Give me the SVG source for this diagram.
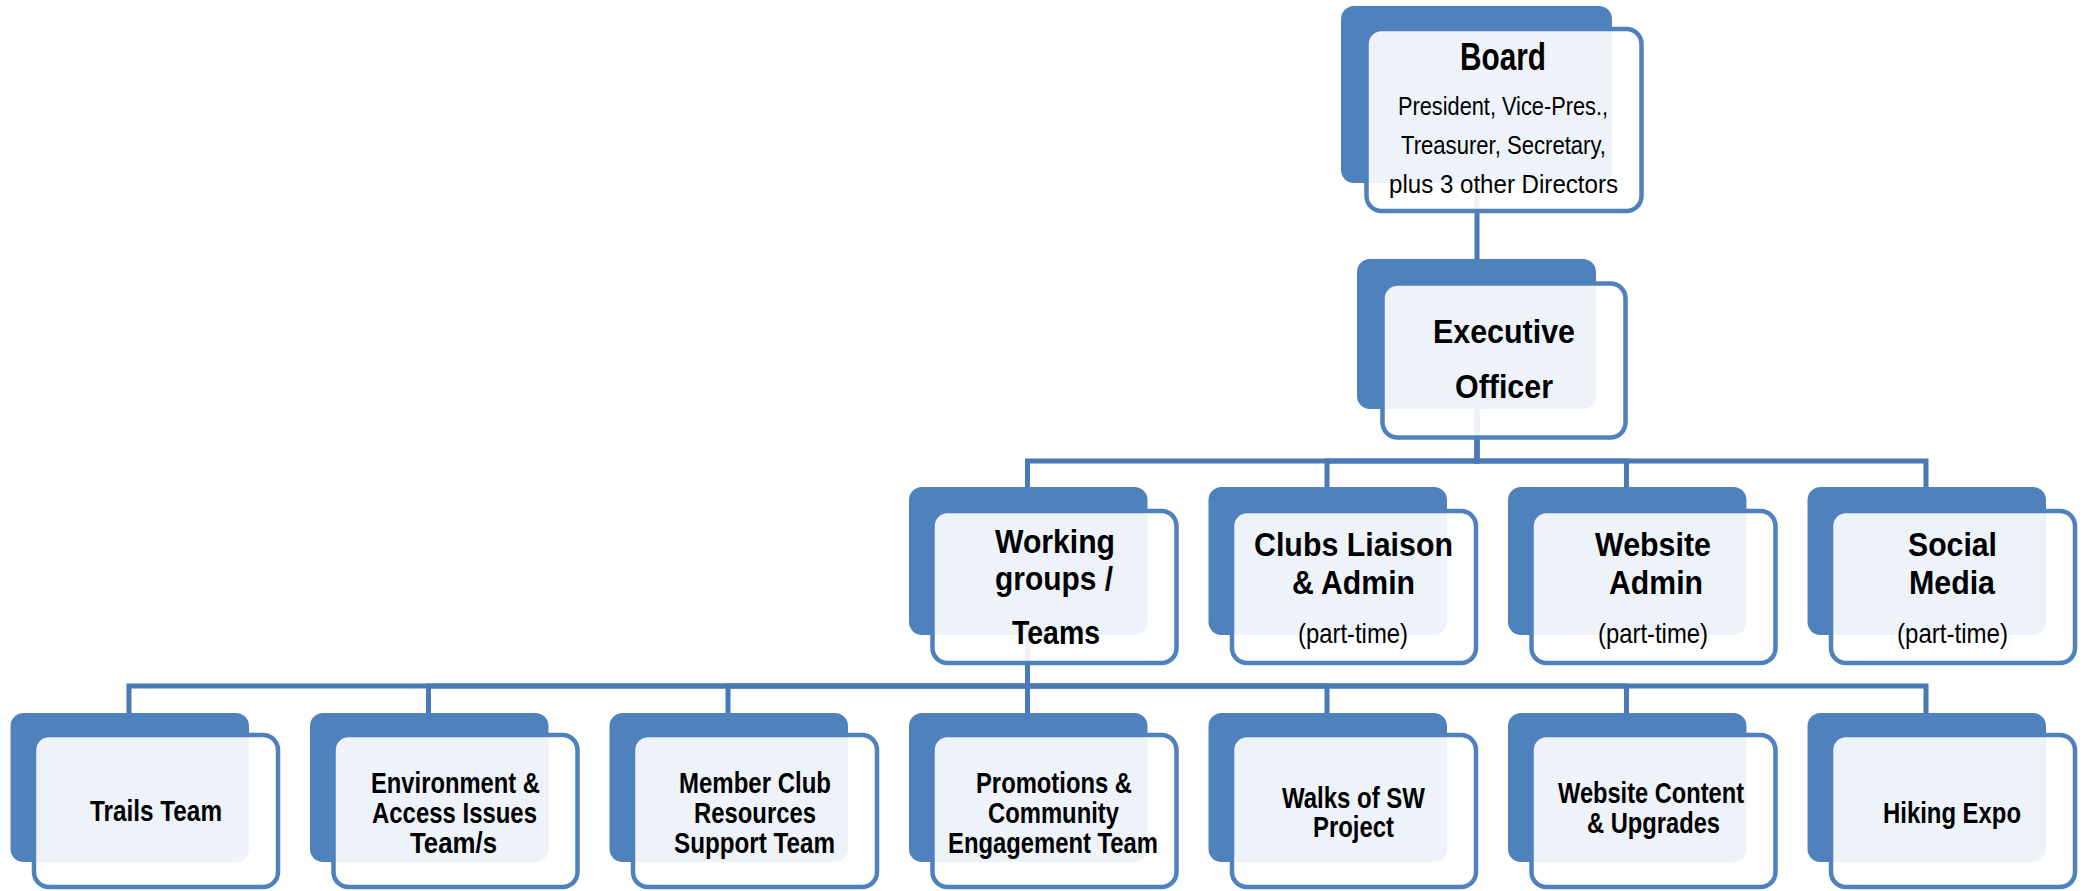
<svg xmlns="http://www.w3.org/2000/svg" width="2085" height="891" viewBox="0 0 2085 891">
<style>
.bg{fill:#ffffff}
.back{fill:#4F81BD}
.front{fill:#ffffff;fill-opacity:0.9;stroke:#4F81BD;stroke-width:4.5}
.conn{fill:none;stroke:#4A7AB5;stroke-width:5;stroke-linejoin:miter}
text{font-family:"Liberation Sans",Arial,sans-serif;fill:#000000}
.b{font-weight:bold}
.t37{font-size:38px}
.t33{font-size:33px}
.t32{font-size:32.5px}
.t28{font-size:29px}
.t27{font-size:28px}
.t26{font-size:26px}
</style>
<rect class="bg" x="0" y="0" width="2085" height="891"/>
<g id="connectors">
<path class="conn" d="M1477 183 V259"/>
<path class="conn" d="M1477 409 V461 H1027.5 V487"/>
<path class="conn" d="M1477 409 V461 H1327 V487"/>
<path class="conn" d="M1477 409 V461 H1626.5 V487"/>
<path class="conn" d="M1477 409 V461 H1926 V487"/>
<path class="conn" d="M1027.5 635 V686 H129 V713"/>
<path class="conn" d="M1027.5 635 V686 H428.5 V713"/>
<path class="conn" d="M1027.5 635 V686 H728 V713"/>
<path class="conn" d="M1027.5 635 V713"/>
<path class="conn" d="M1027.5 635 V686 H1327 V713"/>
<path class="conn" d="M1027.5 635 V686 H1626.5 V713"/>
<path class="conn" d="M1027.5 635 V686 H1926 V713"/>
</g>
<g id="board">
<rect class="back" x="1341" y="6" width="271" height="177" rx="13"/>
<rect class="front" x="1366.5" y="29" width="275" height="182" rx="15"/>
<text class="b t37" x="1460" y="70" textLength="86" lengthAdjust="spacingAndGlyphs">Board</text>
<text class="t26" x="1398" y="115" textLength="210" lengthAdjust="spacingAndGlyphs">President, Vice-Pres.,</text>
<text class="t26" x="1401" y="154" textLength="205" lengthAdjust="spacingAndGlyphs">Treasurer, Secretary,</text>
<text class="t26" x="1389" y="193" textLength="229" lengthAdjust="spacingAndGlyphs">plus 3 other Directors</text>
</g>
<g id="executive">
<rect class="back" x="1357" y="259" width="239" height="150" rx="13"/>
<rect class="front" x="1382.5" y="283.5" width="243" height="154" rx="15"/>
<text class="b t33" x="1433" y="343" textLength="142" lengthAdjust="spacingAndGlyphs">Executive</text>
<text class="b t33" x="1455" y="398" textLength="98" lengthAdjust="spacingAndGlyphs">Officer</text>
</g>
<g id="working-groups">
<rect class="back" x="909" y="487" width="238.5" height="148" rx="13"/>
<rect class="front" x="932.5" y="511" width="244" height="152" rx="15"/>
<text class="b t32" x="995" y="553" textLength="120" lengthAdjust="spacingAndGlyphs">Working</text>
<text class="b t32" x="995" y="590" textLength="118" lengthAdjust="spacingAndGlyphs">groups /</text>
<text class="b t32" x="1012" y="644" textLength="88" lengthAdjust="spacingAndGlyphs">Teams</text>
</g>
<g id="clubs-liaison">
<rect class="back" x="1208.5" y="487" width="238.5" height="148" rx="13"/>
<rect class="front" x="1232" y="511" width="244" height="152" rx="15"/>
<text class="b t32" x="1254" y="556" textLength="199" lengthAdjust="spacingAndGlyphs">Clubs Liaison</text>
<text class="b t32" x="1292" y="594" textLength="123" lengthAdjust="spacingAndGlyphs">&amp; Admin</text>
<text class="t27" x="1298" y="643" textLength="110" lengthAdjust="spacingAndGlyphs">(part-time)</text>
</g>
<g id="website-admin">
<rect class="back" x="1508" y="487" width="238.5" height="148" rx="13"/>
<rect class="front" x="1531.5" y="511" width="244" height="152" rx="15"/>
<text class="b t32" x="1595" y="556" textLength="116" lengthAdjust="spacingAndGlyphs">Website</text>
<text class="b t32" x="1609" y="594" textLength="94" lengthAdjust="spacingAndGlyphs">Admin</text>
<text class="t27" x="1598" y="643" textLength="110" lengthAdjust="spacingAndGlyphs">(part-time)</text>
</g>
<g id="social-media">
<rect class="back" x="1807.5" y="487" width="238.5" height="148" rx="13"/>
<rect class="front" x="1831" y="511" width="244" height="152" rx="15"/>
<text class="b t32" x="1908" y="556" textLength="89" lengthAdjust="spacingAndGlyphs">Social</text>
<text class="b t32" x="1909" y="594" textLength="86" lengthAdjust="spacingAndGlyphs">Media</text>
<text class="t27" x="1897" y="643" textLength="111" lengthAdjust="spacingAndGlyphs">(part-time)</text>
</g>
<g id="trails-team">
<rect class="back" x="10.5" y="713" width="238.5" height="149" rx="13"/>
<rect class="front" x="34" y="735" width="244" height="152" rx="15"/>
<text class="b t28" x="90" y="821" textLength="132" lengthAdjust="spacingAndGlyphs">Trails Team</text>
</g>
<g id="environment">
<rect class="back" x="310" y="713" width="238.5" height="149" rx="13"/>
<rect class="front" x="333.5" y="735" width="244" height="152" rx="15"/>
<text class="b t28" x="371" y="793" textLength="169" lengthAdjust="spacingAndGlyphs">Environment &amp;</text>
<text class="b t28" x="372" y="823" textLength="165" lengthAdjust="spacingAndGlyphs">Access Issues</text>
<text class="b t28" x="410" y="853" textLength="87" lengthAdjust="spacingAndGlyphs">Team/s</text>
</g>
<g id="member-club">
<rect class="back" x="609.5" y="713" width="238.5" height="149" rx="13"/>
<rect class="front" x="633" y="735" width="244" height="152" rx="15"/>
<text class="b t28" x="679" y="793" textLength="152" lengthAdjust="spacingAndGlyphs">Member Club</text>
<text class="b t28" x="694" y="823" textLength="122" lengthAdjust="spacingAndGlyphs">Resources</text>
<text class="b t28" x="674" y="853" textLength="161" lengthAdjust="spacingAndGlyphs">Support Team</text>
</g>
<g id="promotions">
<rect class="back" x="909" y="713" width="238.5" height="149" rx="13"/>
<rect class="front" x="932.5" y="735" width="244" height="152" rx="15"/>
<text class="b t28" x="976" y="793" textLength="156" lengthAdjust="spacingAndGlyphs">Promotions &amp;</text>
<text class="b t28" x="988" y="823" textLength="131" lengthAdjust="spacingAndGlyphs">Community</text>
<text class="b t28" x="948" y="853" textLength="210" lengthAdjust="spacingAndGlyphs">Engagement Team</text>
</g>
<g id="walks-of-sw">
<rect class="back" x="1208.5" y="713" width="238.5" height="149" rx="13"/>
<rect class="front" x="1232" y="735" width="244" height="152" rx="15"/>
<text class="b t28" x="1282" y="808" textLength="143" lengthAdjust="spacingAndGlyphs">Walks of SW</text>
<text class="b t28" x="1313" y="837" textLength="81" lengthAdjust="spacingAndGlyphs">Project</text>
</g>
<g id="website-content">
<rect class="back" x="1508" y="713" width="238.5" height="149" rx="13"/>
<rect class="front" x="1531.5" y="735" width="244" height="152" rx="15"/>
<text class="b t28" x="1558" y="803" textLength="186" lengthAdjust="spacingAndGlyphs">Website Content</text>
<text class="b t28" x="1587" y="833" textLength="133" lengthAdjust="spacingAndGlyphs">&amp; Upgrades</text>
</g>
<g id="hiking-expo">
<rect class="back" x="1807.5" y="713" width="238.5" height="149" rx="13"/>
<rect class="front" x="1831" y="735" width="244" height="152" rx="15"/>
<text class="b t28" x="1883" y="823" textLength="138" lengthAdjust="spacingAndGlyphs">Hiking Expo</text>
</g>
</svg>
